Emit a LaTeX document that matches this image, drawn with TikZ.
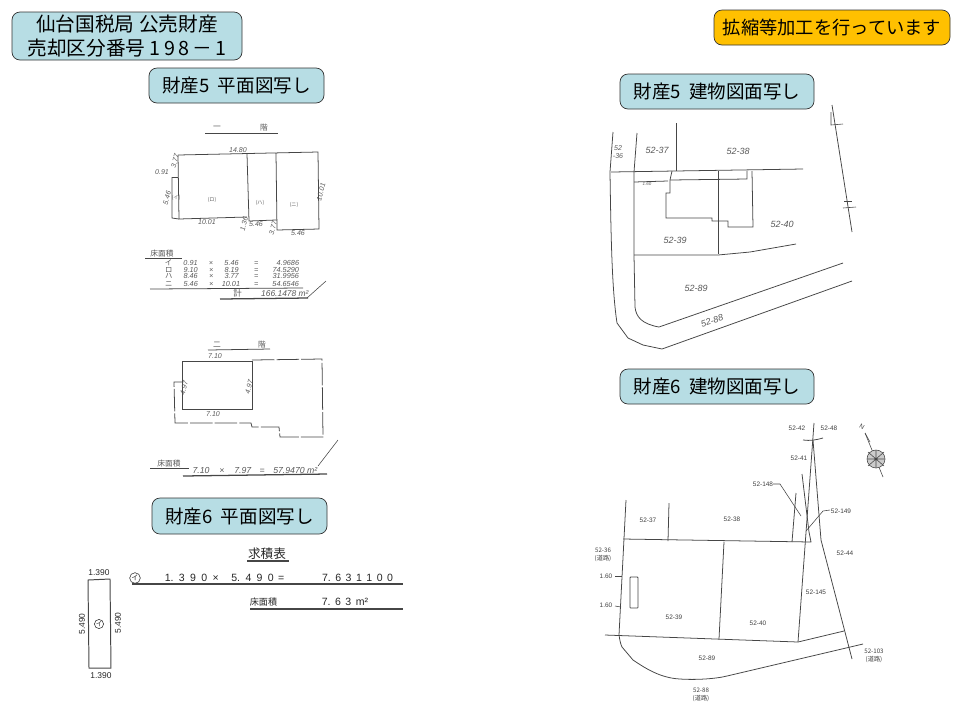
\documentclass[tikz,border=0pt]{standalone}
\usepackage{fontspec}
\setmainfont{Liberation Sans}
\newfontfamily\jpfont{Noto Sans CJK JP}
\usetikzlibrary{calc,positioning}
\definecolor{boxblue}{RGB}{183,221,228}
\definecolor{boxorange}{RGB}{255,192,0}
\definecolor{inkgray}{RGB}{70,70,70}
\begin{document}
\begin{tikzpicture}[x=0.25mm,y=-0.25mm,
	titlebox/.style={rectangle,rounded corners=2mm,draw=black!80,fill=boxblue,line width=0.5pt,inner sep=0pt,align=center,font=\jpfont\fontsize{13.2}{15}\selectfont},
	plan/.style={color=inkgray,line width=0.55pt},
	planheavy/.style={color=inkgray,line width=0.9pt},
	hand/.style={inner sep=0pt,text=black!65,font=\itshape\fontsize{5}{6}\selectfont},
	handrow/.style={inner sep=0pt,text=black!65,font=\itshape\fontsize{5.2}{6}\selectfont},
	handjp/.style={inner sep=0pt,text=black!65,font=\jpfont\fontsize{5.5}{6}\selectfont},
	lot/.style={inner sep=0pt,text=black!75,align=center,font=\fontsize{4.6}{5}\selectfont},
	lotscan/.style={inner sep=0pt,text=black!65,align=center,font=\itshape\fontsize{6.4}{6.6}\selectfont},
	printnum/.style={inner sep=0pt,text=black!85,font=\fontsize{7.5}{8}\selectfont},
	printjp/.style={inner sep=0pt,text=black!85,font=\jpfont\fontsize{6.5}{8}\selectfont}]
	\useasboundingbox (0,0) rectangle (960,720);
	%%title boxes
	\node [titlebox,minimum width=230*0.25mm,minimum height=48*0.25mm,font=\jpfont\fontsize{14}{17}\selectfont] (title) at (127,36) {仙台国税局\ 公売財産\\売却区分番号\ 1\,9\,8\,－\,1};
	\node [titlebox,minimum width=236*0.25mm,minimum height=35*0.25mm,fill=boxorange,font=\jpfont\fontsize{13}{15}\selectfont] (notice) at (832,27.5) {拡縮等加工を行っています};
	\node [titlebox,minimum width=175*0.25mm,minimum height=35*0.25mm] (planA) at (236.5,85.5) {財産5\ \ 平面図写し};
	\node [titlebox,minimum width=175*0.25mm,minimum height=36*0.25mm] (planB) at (239.5,516) {財産6\ \ 平面図写し};
	\node [titlebox,minimum width=194*0.25mm,minimum height=35*0.25mm] (bldgA) at (717,91.5) {財産5\ \ 建物図面写し};
	\node [titlebox,minimum width=194*0.25mm,minimum height=35*0.25mm] (bldgB) at (717,386.5) {財産6\ \ 建物図面写し};

	%%first floor of property 5
	\draw [plan] (205,133) -- (278,133);
	\node [handjp] (floorA1) at (217,128) {一};
	\node [handjp] (floorA2) at (264,128) {階};
	\coordinate (A) at (178,155);
	\coordinate (B) at (247,154);
	\coordinate (C) at (276,153);
	\coordinate (D) at (318,152);
	\coordinate (E) at (319,229);
	\coordinate (F) at (277,230);
	\coordinate (G) at (276,220);
	\coordinate (H) at (249,221);
	\coordinate (I) at (247,217);
	\coordinate (J) at (179,219);
	\draw [plan] (A) -- (D) -- (E) -- (F) -- (C);
	\draw [plan] (G) -- (H) -- (B);
	\draw [plan] (I) -- (J) -- (A);
	\draw [plan] (172,177) -- (178,177);
	\draw [plan] (172,177) -- (172,218) -- (J);
	\node [hand] (dimA1) at (238,150) {14.80};
	\node [hand] (dimA2) at (162,172) {0.91};
	\node [hand,rotate=75] (dimA3) at (175,161) {3.77};
	\node [hand,rotate=75] (dimA4) at (167,198) {5.46};
	\node [hand] (dimA5) at (207,222) {10.01};
	\node [hand,rotate=75] (dimA6) at (244,224) {1.36};
	\node [hand] (dimA7) at (256,224) {5.46};
	\node [hand,rotate=75] (dimA8) at (273,228) {3.77};
	\node [hand] (dimA9) at (298,233) {5.46};
	\node [hand,rotate=75] (dimA10) at (321,192) {10.01};
	\node [handjp,font=\jpfont\fontsize{3.6}{4}\selectfont] (rmA1) at (176,198) {(イ)};
	\node [handjp,font=\jpfont\fontsize{3.6}{4}\selectfont] (rmA2) at (212,200) {(ロ)};
	\node [handjp,font=\jpfont\fontsize{3.6}{4}\selectfont] (rmA3) at (260,203) {(ハ)};
	\node [handjp,font=\jpfont\fontsize{3.6}{4}\selectfont] (rmA4) at (294,205) {(ニ)};
	%%area table of first floor
	\node [handjp] (tblA) at (162,254) {床面積};
	\draw [plan] (145,258) -- (182,258);
	\node [handrow] (rowA1) at (232,263) {{\jpfont イ}\hspace{8pt}0.91\hspace{8pt}×\hspace{8pt}5.46\hspace{11pt}=\hspace{13pt}4.9686};
	\node [handrow] (rowA2) at (232,269.5) {{\jpfont ロ}\hspace{8pt}9.10\hspace{8pt}×\hspace{8pt}8.19\hspace{11pt}=\hspace{10pt}74.5290};
	\node [handrow] (rowA3) at (232,276) {{\jpfont ハ}\hspace{8pt}8.46\hspace{8pt}×\hspace{8pt}3.77\hspace{11pt}=\hspace{10pt}31.9956};
	\node [handrow] (rowA4) at (232,284) {{\jpfont ニ}\hspace{8pt}5.46\hspace{8pt}×\hspace{6pt}10.01\hspace{10pt}=\hspace{10pt}54.6546};
	\draw [plan] (150,289) -- (303,288);
	\node [hand,font=\itshape\fontsize{6}{7}\selectfont] (sumA) at (271,293) {{\jpfont 計}\qquad\ 166.1478 m²};
	\draw [planheavy] (220,299) -- (308,298);
	\draw [plan,thin] (307,298) -- (326,281);

	%%second floor of property 5
	\draw [plan] (208,350) -- (270,349);
	\node [handjp] (floorB1) at (217,345) {二};
	\node [handjp] (floorB2) at (262,345) {階};
	\draw [plan] (182,361) rectangle (252,409);
	\draw [plan,dash pattern=on 16pt off 1.5pt] (252,360) -- (322,359) -- (323,437) -- (280,437) -- (279,427) -- (252,427) -- (251,423) -- (175,423) -- (174,382) -- (182,382);
	\node [hand] (dimB1) at (215,356) {7.10};
	\node [hand] (dimB2) at (213,414) {7.10};
	\node [hand,rotate=75] (dimB3) at (184,388) {4.97};
	\node [hand,rotate=75] (dimB4) at (249,387) {4.97};
	\node [handjp] (tblB) at (169,464) {床面積};
	\draw [plan] (150,468) -- (189,468);
	\node [hand,font=\itshape\fontsize{6.2}{7}\selectfont] (rowB) at (255,470) {7.10\hspace{7pt}×\hspace{7pt}7.97\hspace{6pt}=\hspace{6pt}57.9470 m²};
	\draw [planheavy] (183,476) -- (327,474);
	\draw [plan,thin] (318,466) -- (338,440);

	%%property 6, plan
	\node [printjp,font=\jpfont\fontsize{9}{10}\selectfont] (tblC) at (267,554) {求積表};
	\draw [planheavy] (247,561) -- (289,561);
	\draw [plan,line width=0.7pt] (88,580) -- (110,579) -- (111,668) -- (89,668) -- cycle;
	\node [printnum,font=\fontsize{6}{7}\selectfont] (dimC1) at (99,573) {1.390};
	\node [printnum,font=\fontsize{6}{7}\selectfont] (dimC2) at (101,676) {1.390};
	\node [printnum,rotate=90,font=\fontsize{6}{7}\selectfont] (dimC3) at (82,624) {5.490};
	\node [printnum,rotate=90,font=\fontsize{6}{7}\selectfont] (dimC4) at (118,623) {5.490};
	\node [printjp,circle,draw=black!80,inner sep=0.2pt,font=\jpfont\fontsize{4.6}{5}\selectfont] (rmC1) at (99,624) {イ};
	\node [printjp,circle,draw=black!80,inner sep=0.4pt,font=\jpfont\fontsize{5}{5}\selectfont] (rmC2) at (135,578) {イ};
	\node [printnum] (rowC1) at (224.5,578) {1.\hspace{3.8pt}3\hspace{3.8pt}9\hspace{3.8pt}0\hspace{3.8pt}×\hspace{9pt}5.\hspace{3.8pt}4\hspace{3.8pt}9\hspace{3.8pt}0\hspace{3pt}=};
	\node [printnum] (rowC2) at (357.5,578) {7.\hspace{3.2pt}6\hspace{3.2pt}3\hspace{3.2pt}1\hspace{3.2pt}1\hspace{3.2pt}0\hspace{3.2pt}0};
	\draw [planheavy] (132,584) -- (403,584);
	\node [printjp] (tblC2) at (263.5,602) {床面積};
	\node [printnum] (sumC) at (345,602) {7.\hspace{3.2pt}6\hspace{3.2pt}3\hspace{3.2pt}m²};
	\draw [planheavy,line width=1.4pt] (250,609) -- (403,609);

	%%property 5, building plan
	\draw [plan] (613,132) -- (610,172) .. controls (611,240) and (612,290) .. (617,323) -- (628,338) -- (643,345) -- (662,349) -- (852,281);
	\draw [plan] (637,133) -- (634,172) -- (634,255) -- (635,307) .. controls (636,317) and (642,324) .. (659,327) -- (843,263);
	\draw [plan] (676,123) -- (676,171);
	\draw [plan] (611,172) -- (803,169);
	\draw [plan] (634,182) -- (668,181);
	\draw [plan] (670,180) -- (747,179) -- (747,171);
	\draw [plan] (718,171) -- (718,254);
	\draw [plan] (672,171) -- (670,180) -- (670,193) -- (666,193) -- (666,218) -- (712,218) -- (712,221) -- (728,221) -- (728,227) -- (753,227) -- (752,171);
	\draw [plan] (634,255) -- (718,255) -- (750,252) -- (796,244);
	\draw [plan] (832,105) -- (852,232);
	\draw [plan,thin] (831,112) -- (831,125) -- (843,124);
	\draw [plan,thin] (844,201) -- (852,201);
	\draw [plan,thin] (843,208) -- (856,207);
	\node [lotscan,font=\itshape\fontsize{5}{5.4}\selectfont] (lotA1) at (618,152) {52\\-36};
	\node [lotscan] (lotA2) at (657,150) {52-37};
	\node [lotscan] (lotA3) at (738,151) {52-38};
	\node [lotscan] (lotA4) at (675,240) {52-39};
	\node [lotscan] (lotA5) at (782,224) {52-40};
	\node [lotscan] (lotA6) at (696,288) {52-89};
	\node [lotscan,rotate=18] (lotA7) at (712,321) {52-88};
	\node [lotscan,font=\itshape\fontsize{3.2}{5}\selectfont] (lotA8) at (647,184) {1.60};

	%%property 6, building plan
	\draw [plan] (626,500) -- (619,635) .. controls (620,642) and (621,645) .. (622,647) -- (633,660) .. controls (645,668) and (660,678) .. (680,679) .. controls (695,680) and (715,679) .. (727,676) -- (863,644);
	\draw [plan] (669,503) -- (668,541);
	\draw [plan] (623,539) -- (811,542) -- (809,532) -- (802,474);
	\draw [plan] (724,542) -- (719,639);
	\draw [plan] (605,635) -- (798,642) -- (844,631);
	\draw [plan] (814,423) -- (798,642);
	\draw [plan] (803,440) .. controls (810,441) and (816,440) .. (823,438);
	\draw [plan] (813,440) -- (821,540) -- (852,659);
	\draw [plan] (796,493) -- (792,542);
	\draw [plan,rounded corners=0.5pt] (630,577) rectangle (638,608);
	\coordinate (tagH) at (780,484);
	\coordinate (tagI) at (823,511);
	\draw [plan,thin] (773,484) -- (tagH) -- (801,516);
	\draw [plan,thin] (830,510) -- (tagI) -- (806,531);
	\draw [plan,thin] (615,576) -- (622,576);
	\draw [plan,thin] (615,606) -- (621,607);
	%%north mark
	\coordinate (north) at (876,459);
	\draw [plan,thin] (865,433) -- (883,477);
	\draw [plan,thin] (865,433) -- (870,442);
	\draw [plan,thin,fill=black!20] (north) circle [radius=9];
	\draw [plan,thin] (868,452) -- (884,466) (884,452) -- (868,466) (867,459) -- (885,459) (876,450) -- (876,468);
	\node [lot,rotate=-30] (northN) at (862,427) {N};
	\node [lot] (lotB1) at (797,428) {52-42};
	\node [lot] (lotB2) at (829,428) {52-48};
	\node [lot] (lotB3) at (799,458) {52-41};
	\node [lot] (lotB4) at (763,484) {52-148};
	\node [lot] (lotB5) at (841,511) {52-149};
	\node [lot] (lotB6) at (845,553) {52-44};
	\node [lot] (lotB7) at (816,592) {52-145};
	\node [lot] (lotB8) at (648,520) {52-37};
	\node [lot] (lotB9) at (732,519) {52-38};
	\node [lot,font=\jpfont\fontsize{4.4}{5.2}\selectfont] (lotB10) at (603,555) {52-36\\(道路)};
	\node [lot] (lotB11) at (606,576) {1.60};
	\node [lot] (lotB12) at (606,605) {1.60};
	\node [lot] (lotB13) at (674,617) {52-39};
	\node [lot] (lotB14) at (758,623) {52-40};
	\node [lot] (lotB15) at (707,658) {52-89};
	\node [lot,font=\jpfont\fontsize{4.4}{5.2}\selectfont] (lotB16) at (701,695) {52-88\\(道路)};
	\node [lot,font=\jpfont\fontsize{4.4}{5.2}\selectfont] (lotB17) at (874,656) {52-103\\(道路)};
\end{tikzpicture}
\end{document}
